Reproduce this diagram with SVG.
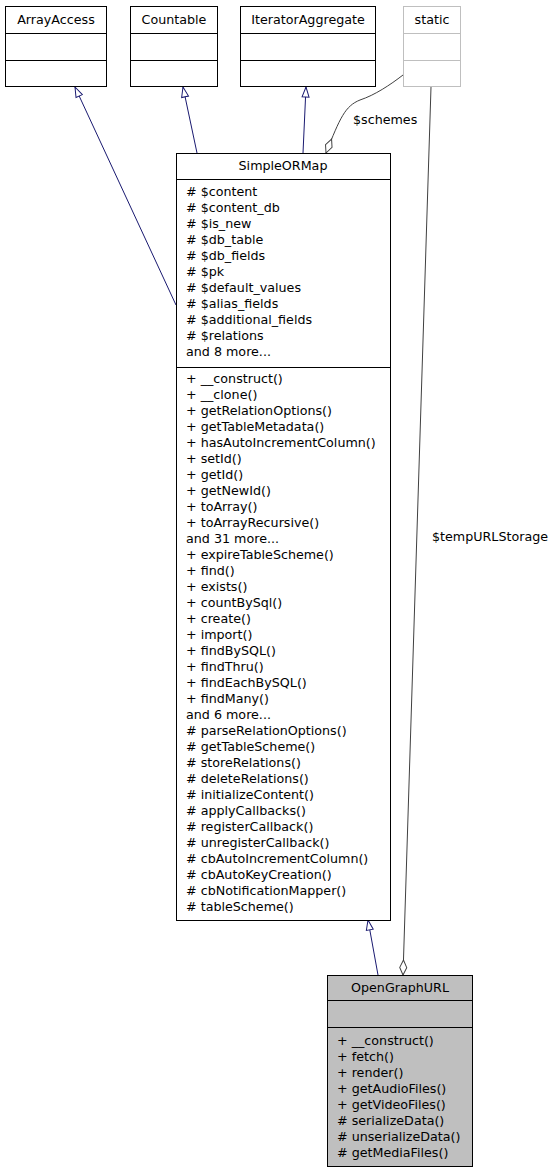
<svg xmlns="http://www.w3.org/2000/svg" width="556" height="1173" viewBox="0 0 556 1173">
<style>
text{font-family:"DejaVu Sans","Liberation Sans",sans-serif;font-size:12.7px;fill:#000}
.c{text-anchor:middle}
.box{fill:#fff;stroke:#000;stroke-width:1}
.sbox{fill:#fff;stroke:#bfbfbf;stroke-width:1}
.gbox{fill:#bfbfbf;stroke:#000;stroke-width:1}
.ln{stroke:#000;stroke-width:1}
.sln{stroke:#bfbfbf;stroke-width:1}
.inh{fill:none;stroke:#191970;stroke-width:1}
.agg{fill:none;stroke:#404040;stroke-width:1}
</style>
<defs>
<marker id="tri" markerUnits="userSpaceOnUse" markerWidth="12" markerHeight="9" refX="11" refY="4.5" orient="auto" viewBox="0 0 12 9">
<path d="M1,1 L11,4.5 L1,8 Z" fill="#fff" stroke="#191970" stroke-width="1"/>
</marker>
<marker id="dia" markerUnits="userSpaceOnUse" markerWidth="17" markerHeight="9" refX="16" refY="4.5" orient="auto" viewBox="0 0 17 9">
<path d="M1,4.5 L8.5,1 L16,4.5 L8.5,8 Z" fill="#fff" stroke="#404040" stroke-width="1"/>
</marker>
</defs>
<rect width="556" height="1173" fill="#fff"/>
<g id="connectors">
<path class="inh" d="M176,305 L75,87" marker-end="url(#tri)"/>
<path class="inh" d="M197,153 L183,87" marker-end="url(#tri)"/>
<path class="inh" d="M303,153 L306,87" marker-end="url(#tri)"/>
<path class="inh" d="M378,975 L368,920" marker-end="url(#tri)"/>
<path class="agg" d="M403,75 C390,85 375,95 360,100 C345,106 340,118 326,153" marker-end="url(#dia)"/>
<text x="353" y="124">$schemes</text>
<path class="agg" d="M431,87 L403,975" marker-end="url(#dia)"/>
<text x="432" y="541">$tempURLStorage</text>
</g>
<g id="ArrayAccess">
<rect class="box" x="5.5" y="6.5" width="101" height="80"/>
<line class="ln" x1="5.5" y1="33.5" x2="106.5" y2="33.5"/>
<line class="ln" x1="5.5" y1="60.5" x2="106.5" y2="60.5"/>
<text class="c" x="56" y="24">ArrayAccess</text>
</g>
<g id="Countable">
<rect class="box" x="130.5" y="6.5" width="87" height="80"/>
<line class="ln" x1="130.5" y1="33.5" x2="217.5" y2="33.5"/>
<line class="ln" x1="130.5" y1="60.5" x2="217.5" y2="60.5"/>
<text class="c" x="174" y="24">Countable</text>
</g>
<g id="IteratorAggregate">
<rect class="box" x="240.5" y="6.5" width="135" height="80"/>
<line class="ln" x1="240.5" y1="33.5" x2="375.5" y2="33.5"/>
<line class="ln" x1="240.5" y1="60.5" x2="375.5" y2="60.5"/>
<text class="c" x="308" y="24">IteratorAggregate</text>
</g>
<g id="static">
<rect class="sbox" x="403.5" y="6.5" width="57" height="80"/>
<line class="sln" x1="403.5" y1="33.5" x2="460.5" y2="33.5"/>
<line class="sln" x1="403.5" y1="60.5" x2="460.5" y2="60.5"/>
<text class="c" x="432" y="24">static</text>
</g>
<g id="SimpleORMap">
<rect class="box" x="176.5" y="153.5" width="214" height="767"/>
<line class="ln" x1="176.5" y1="179.5" x2="390.5" y2="179.5"/>
<line class="ln" x1="176.5" y1="367.5" x2="390.5" y2="367.5"/>
<text class="c" x="283" y="170">SimpleORMap</text>
<text x="186" y="196"># $content</text>
<text x="186" y="212"># $content_db</text>
<text x="186" y="228"># $is_new</text>
<text x="186" y="244"># $db_table</text>
<text x="186" y="260"># $db_fields</text>
<text x="186" y="276"># $pk</text>
<text x="186" y="292"># $default_values</text>
<text x="186" y="308"># $alias_fields</text>
<text x="186" y="324"># $additional_fields</text>
<text x="186" y="340"># $relations</text>
<text x="186" y="356">and 8 more...</text>
<text x="186" y="383">+ __construct()</text>
<text x="186" y="399">+ __clone()</text>
<text x="186" y="415">+ getRelationOptions()</text>
<text x="186" y="431">+ getTableMetadata()</text>
<text x="186" y="447">+ hasAutoIncrementColumn()</text>
<text x="186" y="463">+ setId()</text>
<text x="186" y="479">+ getId()</text>
<text x="186" y="495">+ getNewId()</text>
<text x="186" y="511">+ toArray()</text>
<text x="186" y="527">+ toArrayRecursive()</text>
<text x="186" y="543">and 31 more...</text>
<text x="186" y="559">+ expireTableScheme()</text>
<text x="186" y="575">+ find()</text>
<text x="186" y="591">+ exists()</text>
<text x="186" y="607">+ countBySql()</text>
<text x="186" y="623">+ create()</text>
<text x="186" y="639">+ import()</text>
<text x="186" y="655">+ findBySQL()</text>
<text x="186" y="671">+ findThru()</text>
<text x="186" y="687">+ findEachBySQL()</text>
<text x="186" y="703">+ findMany()</text>
<text x="186" y="719">and 6 more...</text>
<text x="186" y="735"># parseRelationOptions()</text>
<text x="186" y="751"># getTableScheme()</text>
<text x="186" y="767"># storeRelations()</text>
<text x="186" y="783"># deleteRelations()</text>
<text x="186" y="799"># initializeContent()</text>
<text x="186" y="815"># applyCallbacks()</text>
<text x="186" y="831"># registerCallback()</text>
<text x="186" y="847"># unregisterCallback()</text>
<text x="186" y="863"># cbAutoIncrementColumn()</text>
<text x="186" y="879"># cbAutoKeyCreation()</text>
<text x="186" y="895"># cbNotificationMapper()</text>
<text x="186" y="911"># tableScheme()</text>
</g>
<g id="OpenGraphURL">
<rect class="gbox" x="327.5" y="975.5" width="145" height="191"/>
<line class="ln" x1="327.5" y1="1000.5" x2="472.5" y2="1000.5"/>
<line class="ln" x1="327.5" y1="1027.5" x2="472.5" y2="1027.5"/>
<text class="c" x="400" y="992">OpenGraphURL</text>
<text x="337" y="1045">+ __construct()</text>
<text x="337" y="1061">+ fetch()</text>
<text x="337" y="1077">+ render()</text>
<text x="337" y="1093">+ getAudioFiles()</text>
<text x="337" y="1109">+ getVideoFiles()</text>
<text x="337" y="1125"># serializeData()</text>
<text x="337" y="1141"># unserializeData()</text>
<text x="337" y="1157"># getMediaFiles()</text>
</g>
</svg>
